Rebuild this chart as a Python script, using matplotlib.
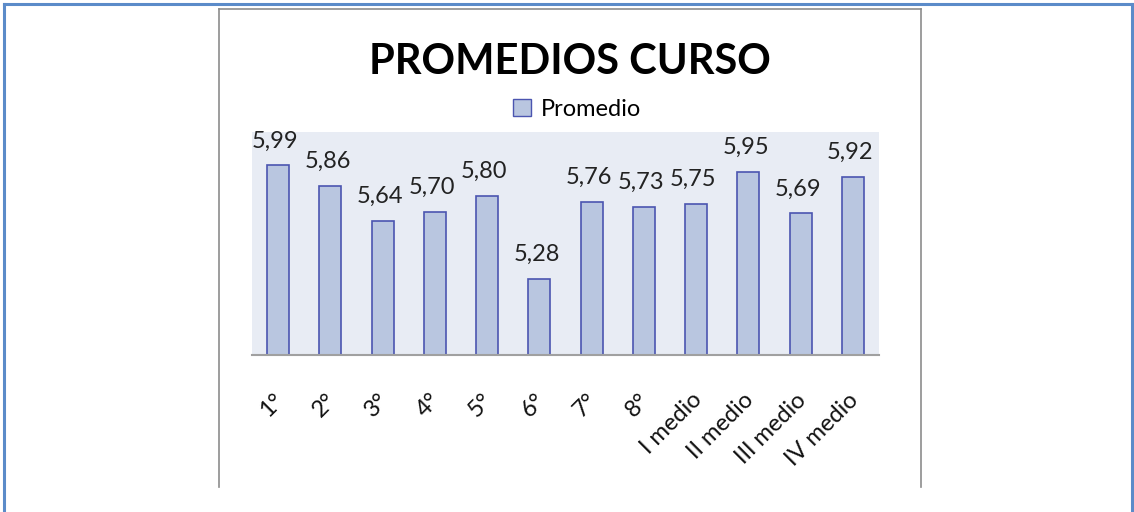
import matplotlib
matplotlib.use("Agg")
import matplotlib.pyplot as plt
from matplotlib.lines import Line2D
from matplotlib.patches import Patch
import matplotlib.transforms as mtransforms

categories = ["1°", "2°", "3°", "4°", "5°", "6°", "7°", "8°",
              "I medio", "II medio", "III medio", "IV medio"]
promedio = [5.99, 5.86, 5.64, 5.70, 5.80, 5.28, 5.76, 5.73, 5.75, 5.95, 5.69, 5.92]
labels = ["5,99", "5,86", "5,64", "5,70", "5,80", "5,28", "5,76", "5,73",
          "5,75", "5,95", "5,69", "5,92"]
title = "PROMEDIOS CURSO"
series_name = "Promedio"

plt.rcParams['font.family'] = ['Lato', 'DejaVu Sans']

W, H = 1134, 512
fig = plt.figure(figsize=(W / 100, H / 100), dpi=100)
fig.patch.set_facecolor("white")

def px(x, y):
    return x / W, 1 - y / H

# outer blue frame (left, top, right)
blue = "#5B8BC9"
for (x0, y0), (x1, y1) in [((4, 512), (4, 4)), ((4, 4), (1132, 4)), ((1132, 4), (1132, 512))]:
    a, b = px(x0, y0); c, d = px(x1, y1)
    fig.add_artist(Line2D([a, c], [b, d], color=blue, lw=2.2, transform=fig.transFigure))

# inner chart frame (left, top, right)
gray = "#8C8C8C"
for (x0, y0), (x1, y1) in [((219, 487), (219, 9)), ((219, 9), (921, 9)), ((921, 9), (921, 487))]:
    a, b = px(x0, y0); c, d = px(x1, y1)
    fig.add_artist(Line2D([a, c], [b, d], color=gray, lw=1.2, transform=fig.transFigure))

left, right = 252 / W, 879 / W
bottom, top = 1 - 355 / H, 1 - 132 / H
ax = fig.add_axes([left, bottom, right - left, top - bottom])
ax.set_facecolor("#E8ECF4")

x = list(range(len(categories)))
bars = ax.bar(x, promedio, width=0.42, bottom=0, color="#B9C6E0",
              edgecolor="#4B55B0", linewidth=1.2, zorder=2)
ax.set_ylim(4.8, 6.2)
ax.set_xlim(-0.5, len(categories) - 0.5)

for xi, v, lab in zip(x, promedio, labels):
    ax.annotate(lab, (xi, v), xytext=(-2, 10), textcoords="offset points",
                ha="center", va="bottom", fontsize=17, color="#222222")

for s in ["left", "right", "top"]:
    ax.spines[s].set_visible(False)
ax.spines["bottom"].set_color("#A0A0A0")
ax.spines["bottom"].set_linewidth(1.5)
ax.set_yticks([])
ax.set_xticks(x)
ax.set_xticklabels(categories, rotation=45, ha="right", va="center",
                   rotation_mode="anchor", fontsize=17, color="#111111")
ax.tick_params(axis="x", length=0, pad=30)
offset = mtransforms.ScaledTranslation(2 / 100, 0, fig.dpi_scale_trans)
for t in ax.get_xticklabels():
    t.set_transform(t.get_transform() + offset)

fig.text(570 / W, 1 - 62 / H, title, ha="center", va="center",
         fontsize=30, fontweight="bold", color="#000000")

handle = Patch(facecolor="#B9C6E0", edgecolor="#4B55B0", linewidth=1.0)
fig.legend([handle], [series_name], loc="center", bbox_to_anchor=(577 / W, 1 - 109 / H),
           frameon=False, fontsize=17, handlelength=0.75, handleheight=0.75,
           handletextpad=0.4, borderpad=0)

fig.savefig("out.png", dpi=100, facecolor="white")
